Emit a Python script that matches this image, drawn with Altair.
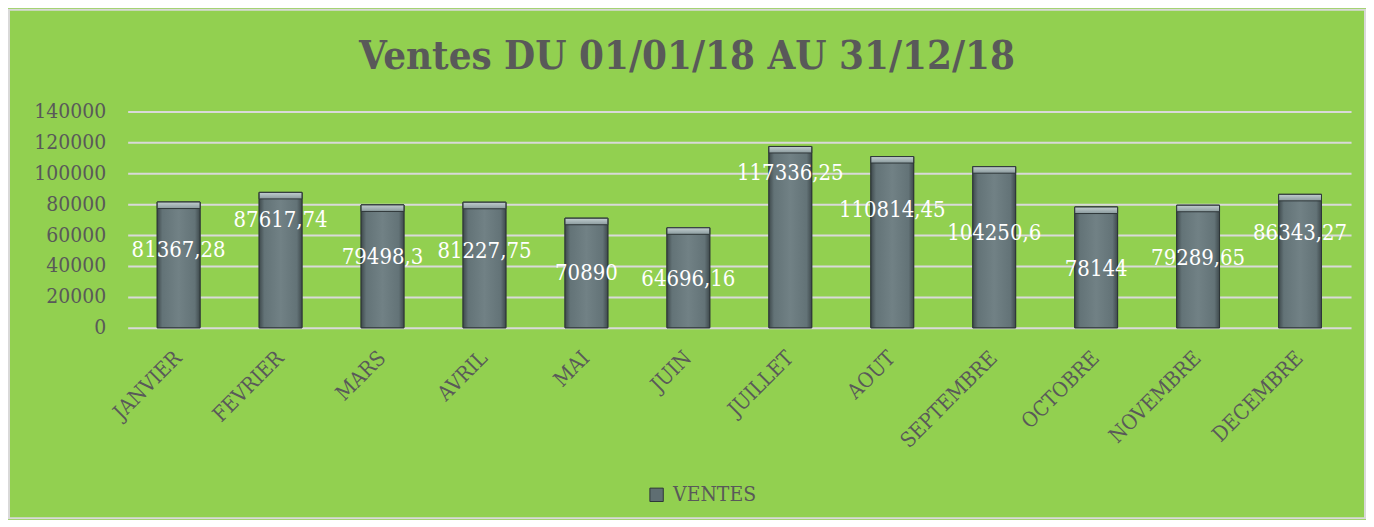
import altair as alt
import pandas as pd

titre = ["Ventes DU 01/01/18 AU 31/12/18"]
mois = ["JANVIER", "FEVRIER", "MARS", "AVRIL", "MAI", "JUIN", "JUILLET",
        "AOUT", "SEPTEMBRE", "OCTOBRE", "NOVEMBRE", "DECEMBRE"]
ventes = [81367.28, 87617.74, 79498.3, 81227.75, 70890, 64696.16, 117336.25,
          110814.45, 104250.6, 78144, 79289.65, 86343.27]
etiquettes = ["81367,28", "87617,74", "79498,3", "81227,75", "70890", "64696,16",
              "117336,25", "110814,45", "104250,6", "78144", "79289,65", "86343,27"]
# vertical anchor of each data label (data units), as placed in the original
pos_etiquettes = [50300, 69700, 45800, 49700, 35500, 31600, 100000, 76100,
                  61300, 38100, 45200, 61300]
serie = "VENTES"
y_ticks = [0, 20000, 40000, 60000, 80000, 100000, 120000, 140000]

df = pd.DataFrame({
    "mois": mois,
    "ventes": ventes,
    "etiquette": etiquettes,
    "pos": pos_etiquettes,
    "serie": [serie] * len(mois),
})

FONT = "DejaVu Serif Condensed, DejaVu Serif, serif"
GREY = "#595959"

x_axis = alt.Axis(labelAngle=-45, labelAlign="right", labelBaseline="middle",
                  labelFontSize=21, labelColor=GREY, labelFont=FONT,
                  labelPadding=27, domain=False, ticks=False, grid=False,
                  labelOverlap=False, title=None)
y_axis = alt.Axis(values=y_ticks, format="d", labelFontSize=21,
                  labelColor=GREY, labelFont=FONT, labelPadding=22,
                  domain=False, ticks=False, grid=True, labelOverlap=False,
                  gridColor="#d9d9d9", gridWidth=2, title=None)
x_scale = alt.Scale(paddingInner=0.58, paddingOuter=0.29)
y_scale = alt.Scale(domain=[0, 140000], nice=False)


def X():
    return alt.X("mois:N", sort=mois, title=None, scale=x_scale, axis=x_axis)


def Y(field):
    return alt.Y(field, title=None, scale=y_scale, axis=y_axis)


base = alt.Chart(df)

bars = base.mark_bar(stroke="#2e3638", strokeWidth=1).encode(
    x=X(), y=Y("ventes:Q"),
    color=alt.Color("serie:N", title=None,
                    scale=alt.Scale(domain=[serie], range=["#5f6e72"]),
                    legend=alt.Legend(orient="none", legendX=520, legendY=374,
                                      symbolType="square", symbolSize=180,
                                      symbolStrokeColor="#2e3638", symbolStrokeWidth=1,
                                      labelFontSize=21, labelColor=GREY, labelFont=FONT,
                                      padding=0, labelOffset=6)),
)

shade = base.mark_bar(
    fill=alt.LinearGradient(gradient="linear", x1=0, x2=1, y1=0, y2=0, stops=[
        alt.GradientStop(offset=0, color="#3f4a4d"),
        alt.GradientStop(offset=0.12, color="#637377"),
        alt.GradientStop(offset=0.5, color="#718185"),
        alt.GradientStop(offset=0.88, color="#637377"),
        alt.GradientStop(offset=1, color="#3f4a4d"),
    ]),
    stroke="#2e3638", strokeWidth=1,
).encode(x=X(), y=Y("ventes:Q"))

bevel = base.transform_calculate(haut="datum.ventes - 4200").mark_bar(
    fill=alt.LinearGradient(gradient="linear", x1=0, x2=0, y1=0, y2=1, stops=[
        alt.GradientStop(offset=0, color="#c2ced0"),
        alt.GradientStop(offset=1, color="#8a9a9d"),
    ]),
    stroke="#2e3638", strokeWidth=1,
).encode(x=X(), y=Y("ventes:Q"), y2="haut:Q")

labels = base.mark_text(color="white", fontSize=22, font=FONT,
                        baseline="middle", align="center").encode(
    x=X(), y=Y("pos:Q"), text="etiquette:N")

frame = alt.Chart(pd.DataFrame({"k": [0]})).mark_rect(
    fill="transparent", stroke="#d9d9d9", strokeWidth=2).encode(
    x=alt.value(-119), x2=alt.value(1241), y=alt.value(-102), y2=alt.value(408))

title = alt.Chart(pd.DataFrame({"t": titre})).mark_text(
    fontSize=40, font=FONT, fontWeight="bold", color=GREY,
    align="center", baseline="alphabetic").encode(
    x=alt.value(561), y=alt.value(-43), text="t:N")

chart = alt.layer(frame, bars, shade, bevel, labels, title).properties(
    width=1227, height=217,
    padding={"left": 120, "top": 103, "right": 15, "bottom": 192},
    autosize=alt.AutoSizeParams(type="none"),
    background="#92D050",
).configure_view(stroke=None)

chart.save("out.html", embed_options={"renderer": "svg", "actions": False})
